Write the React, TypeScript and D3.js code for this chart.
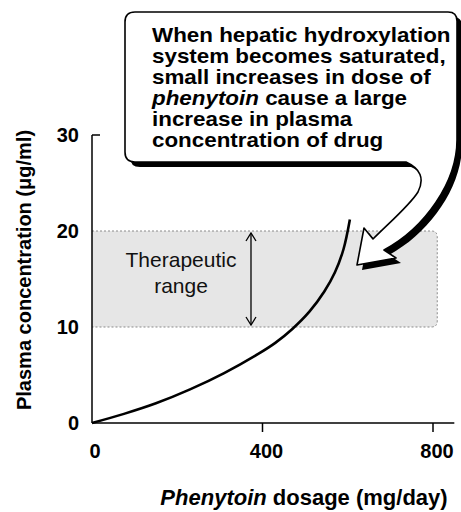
import * as React from "react";
import * as d3 from "d3";

// phenytoin dose (mg/day) vs plasma concentration (ug/ml)
const doses = [0, 75, 150, 230, 310, 390, 430, 470, 510, 545, 570, 590, 605];
const concentrations = [0, 0.95, 2.05, 3.5, 5.2, 7.2, 8.35, 9.8, 11.6, 13.7, 15.7, 18.1, 21.2];

const xTicks = [0, 400, 800];
const yTicks = [0, 10, 20, 30];
const therapeuticRange = [10, 20];
const bandEndDose = 810;
const rangeArrowDose = 373;

const calloutLines = [
  "When hepatic hydroxylation",
  "system becomes saturated,",
  "small increases in dose of",
  "|phenytoin| cause a large",
  "increase in plasma",
  "concentration of drug",
];

const FONT = '"Liberation Sans", Arial, Helvetica, sans-serif';

const App: React.FunctionComponent = () => {
  const width = 461;
  const height = 512;

  const x = d3.scaleLinear().domain([0, 800]).range([92, 433]);
  const y = d3.scaleLinear().domain([0, 30]).range([423, 135]);

  const points = doses.map((d, i) => ({ dose: d, conc: concentrations[i] }));
  const line = d3
    .line<{ dose: number; conc: number }>()
    .x(d => x(d.dose))
    .y(d => y(d.conc))
    .curve(d3.curveCatmullRom.alpha(0.5));

  // therapeutic band with rounded right corners
  const bx0 = x(0);
  const bx1 = x(bandEndDose);
  const by0 = y(therapeuticRange[1]);
  const by1 = y(therapeuticRange[0]);
  const r = 6;
  const bandPath = `M${bx0},${by0} L${bx1 - r},${by0} Q${bx1},${by0} ${bx1},${by0 + r} L${bx1},${by1 - r} Q${bx1},${by1} ${bx1 - r},${by1} L${bx0},${by1}`;

  // speech bubble with a curled tail ending in an arrowhead
  const bubble =
    "M135,12 L448,12 Q457,12 457,21 L457,140 " +
    "C457,182 425,228 384,250 " +
    "L396,258 L357,265 L364,228 L373,239 " +
    "C390,222 410,205 418,192 " +
    "Q428,172 406,162 " +
    "L135,162 Q125,162 125,152 L125,22 Q125,12 135,12 Z";

  const ax = x(rangeArrowDose);
  const aTop = y(therapeuticRange[1]) + 2;
  const aBot = y(therapeuticRange[0]) - 2;

  return (
    <svg
      width={width}
      height={height}
      style={{ position: "absolute", left: 0, top: 0, background: "#fff" }}
      fontFamily={FONT}
    >
      {/* therapeutic range band */}
      <path d={bandPath + " Z"} fill="#e6e6e6" stroke="none" />
      <path d={bandPath} fill="none" stroke="#8a8a8a" strokeWidth={1} strokeDasharray="2,2" />

      {/* double-headed arrow */}
      <line x1={ax} x2={ax} y1={aTop} y2={aBot} stroke="#000" strokeWidth={1.3} />
      <path
        d={`M${ax - 5},${aTop + 8} L${ax},${aTop} L${ax + 5},${aTop + 8} M${ax - 5},${aBot - 8} L${ax},${aBot} L${ax + 5},${aBot - 8}`}
        fill="none"
        stroke="#000"
        strokeWidth={1.3}
      />
      <text x={181} y={267} textAnchor="middle" fontSize={21} fill="#111">Therapeutic</text>
      <text x={181} y={293} textAnchor="middle" fontSize={21} fill="#111">range</text>

      {/* axes */}
      <line x1={x(0)} x2={x(0)} y1={y(0)} y2={y(30)} stroke="#000" strokeWidth={1.5} />
      <line x1={x(0)} x2={x(0) + 8} y1={y(30)} y2={y(30)} stroke="#000" strokeWidth={1.5} />
      <line x1={x(0)} x2={x(850)} y1={y(0)} y2={y(0)} stroke="#000" strokeWidth={1.5} />
      {xTicks.filter(t => t > 0).map(t => (
        <line key={t} x1={x(t)} x2={x(t)} y1={y(0)} y2={y(0) + 9} stroke="#000" strokeWidth={1.5} />
      ))}
      {xTicks.map(t => (
        <text key={t} x={x(t) + (t === 0 ? 3 : 4)} y={458} textAnchor="middle" fontSize={20} fontWeight="bold">
          {t}
        </text>
      ))}
      {yTicks.map(t => (
        <text key={t} x={79} y={y(t) + 7} textAnchor="end" fontSize={20} fontWeight="bold">
          {t}
        </text>
      ))}

      {/* curve */}
      <path d={line(points) ?? ""} fill="none" stroke="#000" strokeWidth={2.6} />

      {/* axis titles */}
      <text
        transform="translate(31,270) rotate(-90)"
        textAnchor="middle"
        fontSize={20}
        fontWeight="bold"
      >
        Plasma concentration (μg/ml)
      </text>
      <text x={304} y={505} textAnchor="middle" fontSize={22} fontWeight="bold">
        <tspan fontStyle="italic">Phenytoin</tspan> dosage (mg/day)
      </text>

      {/* callout */}
      <path d={bubble} fill="#000" transform="translate(5,5)" />
      <path d={bubble} fill="#fff" stroke="#000" strokeWidth={1.6} strokeLinejoin="round" />
      <g transform="translate(152,0) scale(1.12,1)">
        {calloutLines.map((l, i) => {
          const parts = l.split("|");
          return (
            <text key={i} x={0} y={42 + i * 21} fontSize={20} fontWeight="bold">
              {parts.map((p, j) => (
                <tspan key={j} fontStyle={j % 2 === 1 ? "italic" : "normal"}>
                  {p}
                </tspan>
              ))}
            </text>
          );
        })}
      </g>
    </svg>
  );
};

export default App;
